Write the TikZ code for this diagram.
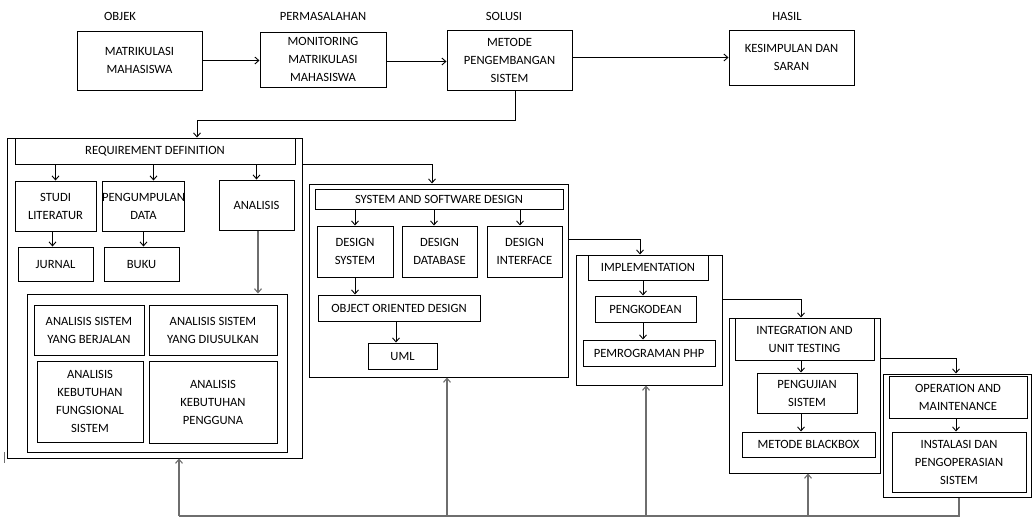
\documentclass[tikz,border=0pt]{standalone}
\usepackage{fontspec}
\setmainfont{Carlito}
\usepackage{tikz}
\usetikzlibrary{positioning,arrows.meta,calc}
\definecolor{linegray}{RGB}{110,110,110}
\tikzset{
  flowarrow/.style={-{Straight Barb[length=4pt,width=7pt]}, line width=0.9pt},
  backarrow/.style={-{Straight Barb[length=4pt,width=7pt]}, line width=1.1pt, linegray},
  backline/.style={line width=1.1pt, linegray},
  framebox/.style={draw, line width=1pt, inner sep=0pt},
  itembox/.style={draw, line width=1pt, inner sep=0pt, align=center},
  headlabel/.style={inner sep=0pt}
}

\begin{document}
\begin{tikzpicture}[x=1pt, y=-1pt, every node/.style={font=\fontsize{12.6}{18}\selectfont}]
  \useasboundingbox (0,0) rectangle (1033,531);
  % top row
  \node[headlabel] (lobj) at (120,16) {OBJEK};
  \node[headlabel] (lmas) at (323,16) {PERMASALAHAN};
  \node[headlabel] (lsol) at (504,16) {SOLUSI};
  \node[headlabel] (lhas) at (787,16) {HASIL};
  \node[itembox, minimum width=125pt, minimum height=59pt] (objek) at (139.5,60.5) {MATRIKULASI\\MAHASISWA};
  \node[itembox, minimum width=126pt, minimum height=55pt] (masalah) at (323,59.5) {MONITORING\\MATRIKULASI\\MAHASISWA};
  \node[itembox, minimum width=125pt, minimum height=60pt] (solusi) at (509.5,60) {METODE\\PENGEMBANGAN\\SISTEM};
  \node[itembox, minimum width=125pt, minimum height=55pt] (hasil) at (791.5,57.5) {KESIMPULAN DAN\\SARAN};
  \draw[flowarrow] (objek.east) -- (objek.east -| masalah.west);
  \draw[flowarrow] ([yshift=-2pt]masalah.east) -- ([yshift=-2pt]masalah.east -| solusi.west);
  \draw[flowarrow] (hasil.west -| solusi.east) -- (hasil.west);

  % requirement definition
  \node[framebox, minimum width=295pt, minimum height=320pt] (rdouter) at (154.5,298) {};
  \node[itembox, minimum width=280pt, minimum height=26pt] (rdhead) at (155,151) {REQUIREMENT DEFINITION};
  \node[itembox, minimum width=81pt, minimum height=50pt] (studi) at (55.5,206) {STUDI\\LITERATUR};
  \node[itembox, minimum width=79pt, minimum height=50pt] (kumpul) at (143.5,206) {PENGUMPULAN\\DATA};
  \node[itembox, minimum width=75pt, minimum height=50pt] (analisis) at (256.5,205) {ANALISIS};
  \node[itembox, minimum width=75pt, minimum height=34pt] (jurnal) at (55.5,264) {JURNAL};
  \node[itembox, minimum width=75pt, minimum height=34pt] (buku) at (141.5,264) {BUKU};
  \node[framebox, minimum width=260pt, minimum height=158pt] (rdinner) at (157,373) {};
  \node[itembox, minimum width=110pt, minimum height=50pt] (berjalan) at (89,330) {ANALISIS SISTEM\\YANG BERJALAN};
  \node[itembox, minimum width=128pt, minimum height=50pt] (usulan) at (213,330) {ANALISIS SISTEM\\YANG DIUSULKAN};
  \node[itembox, minimum width=106pt, minimum height=81pt] (fungsi) at (90,401.5) {ANALISIS\\KEBUTUHAN\\FUNGSIONAL\\SISTEM};
  \node[itembox, minimum width=128pt, minimum height=82pt] (pengguna) at (213,402) {ANALISIS\\KEBUTUHAN\\PENGGUNA};
  \coordinate (k1) at (197,120);
  \draw[flowarrow] ([xshift=5.5pt]solusi.south) |- (k1) -- (k1 |- rdhead.north);
  \draw[flowarrow] (studi.north |- rdhead.south) -- (studi.north);
  \draw[flowarrow] ([xshift=10pt]kumpul.north |- rdhead.south) -- ([xshift=10pt]kumpul.north);
  \draw[flowarrow] (analisis.north |- rdhead.south) -- (analisis.north);
  \draw[flowarrow] ([xshift=-3pt]studi.south) -- ([xshift=-3pt]studi.south |- jurnal.north);
  \draw[flowarrow] (kumpul.south) -- (kumpul.south |- buku.north);
  \draw[backarrow] ([xshift=1.5pt]analisis.south) -- ([xshift=1.5pt]analisis.south |- rdinner.north);
  \draw[line width=0.8pt, linegray] (4,452) -- (4,463);

  % system and software design
  \node[framebox, minimum width=259pt, minimum height=193pt] (ssdouter) at (438.5,280.5) {};
  \node[itembox, minimum width=248pt, minimum height=20pt] (ssdhead) at (439,199) {SYSTEM AND SOFTWARE DESIGN};
  \node[itembox, minimum width=76pt, minimum height=51pt] (dsys) at (355,251.5) {DESIGN\\SYSTEM};
  \node[itembox, minimum width=75pt, minimum height=51pt] (ddb) at (439.5,251.5) {DESIGN\\DATABASE};
  \node[itembox, minimum width=75pt, minimum height=51pt] (dint) at (524.5,251.5) {DESIGN\\INTERFACE};
  \node[itembox, minimum width=162pt, minimum height=26pt] (ood) at (399,308) {OBJECT ORIENTED DESIGN};
  \node[itembox, minimum width=69pt, minimum height=26pt] (uml) at (402.5,356) {UML};
  \draw[flowarrow] (rdouter.east |- rdhead.south) -| ([xshift=-6.5pt]ssdouter.north);
  \draw[flowarrow] (dsys.north |- ssdhead.south) -- (dsys.north);
  \draw[flowarrow] ([xshift=-5.5pt]ddb.north |- ssdhead.south) -- ([xshift=-5.5pt]ddb.north);
  \draw[flowarrow] ([xshift=-4.5pt]dint.north |- ssdhead.south) -- ([xshift=-4.5pt]dint.north);
  \draw[flowarrow] (dsys.south) -- (dsys.south |- ood.north);
  \draw[flowarrow] ([xshift=-3pt]ood.south) -- ([xshift=-3pt]ood.south |- uml.north);

  % implementation
  \node[framebox, minimum width=146pt, minimum height=130pt] (implouter) at (649,320) {};
  \node[itembox, minimum width=120pt, minimum height=25pt] (implhead) at (648,267.5) {IMPLEMENTATION};
  \node[itembox, minimum width=101pt, minimum height=26pt] (kode) at (645.5,309) {PENGKODEAN};
  \node[itembox, minimum width=132pt, minimum height=26pt] (php) at (649,353) {PEMROGRAMAN PHP};
  \coordinate (k2) at (568,239);
  \draw[flowarrow] (k2) -| ([xshift=-9pt]implouter.north);
  \draw[flowarrow] ([xshift=-5pt]implhead.south) -- ([xshift=-5pt]implhead.south |- kode.north);
  \draw[flowarrow] ([xshift=-2.5pt]kode.south) -- ([xshift=-2.5pt]kode.south |- php.north);

  % integration and unit testing
  \node[framebox, minimum width=151pt, minimum height=155pt] (intouter) at (804.5,395.5) {};
  \node[itembox, minimum width=139pt, minimum height=42pt] (inthead) at (804.5,339) {INTEGRATION AND\\UNIT TESTING};
  \node[itembox, minimum width=100pt, minimum height=40pt] (uji) at (807,393) {PENGUJIAN\\SISTEM};
  \node[itembox, minimum width=133pt, minimum height=25pt] (blackbox) at (808.5,444.5) {METODE BLACKBOX};
  \coordinate (k3) at (722,299);
  \draw[flowarrow] (k3) -| ([xshift=-3.5pt]intouter.north);
  \draw[flowarrow] ([xshift=-3.5pt]inthead.south) -- ([xshift=-3.5pt]inthead.south |- uji.north);
  \draw[flowarrow] ([xshift=-6pt]uji.south) -- ([xshift=-6pt]uji.south |- blackbox.north);

  % operation and maintenance
  \node[framebox, minimum width=148.5pt, minimum height=123pt] (omouter) at (957.25,435.5) {};
  \node[itembox, minimum width=138pt, minimum height=42pt] (omhead) at (958,397) {OPERATION AND\\MAINTENANCE};
  \node[itembox, minimum width=134pt, minimum height=60pt] (instal) at (959,462) {INSTALASI DAN\\PENGOPERASIAN\\SISTEM};
  \coordinate (k4) at (880,358);
  \draw[flowarrow] (k4) -| ([xshift=-1.25pt]omouter.north);
  \draw[flowarrow] ([xshift=-2pt]omhead.south) -- ([xshift=-2pt]omhead.south |- instal.north);

  % feedback line
  \coordinate (fb1) at (179,516);
  \coordinate (fb2) at (447,516);
  \coordinate (fb3) at (646,516);
  \coordinate (fb4) at (808,516);
  \draw[backline] ([xshift=1.75pt]omouter.south) |- (fb1);
  \draw[backarrow] (fb1) -- (fb1 |- rdouter.south);
  \draw[backarrow] (fb2) -- (fb2 |- ssdouter.south);
  \draw[backarrow] (fb3) -- (fb3 |- implouter.south);
  \draw[backarrow] (fb4) -- (fb4 |- intouter.south);
\end{tikzpicture}
\end{document}
